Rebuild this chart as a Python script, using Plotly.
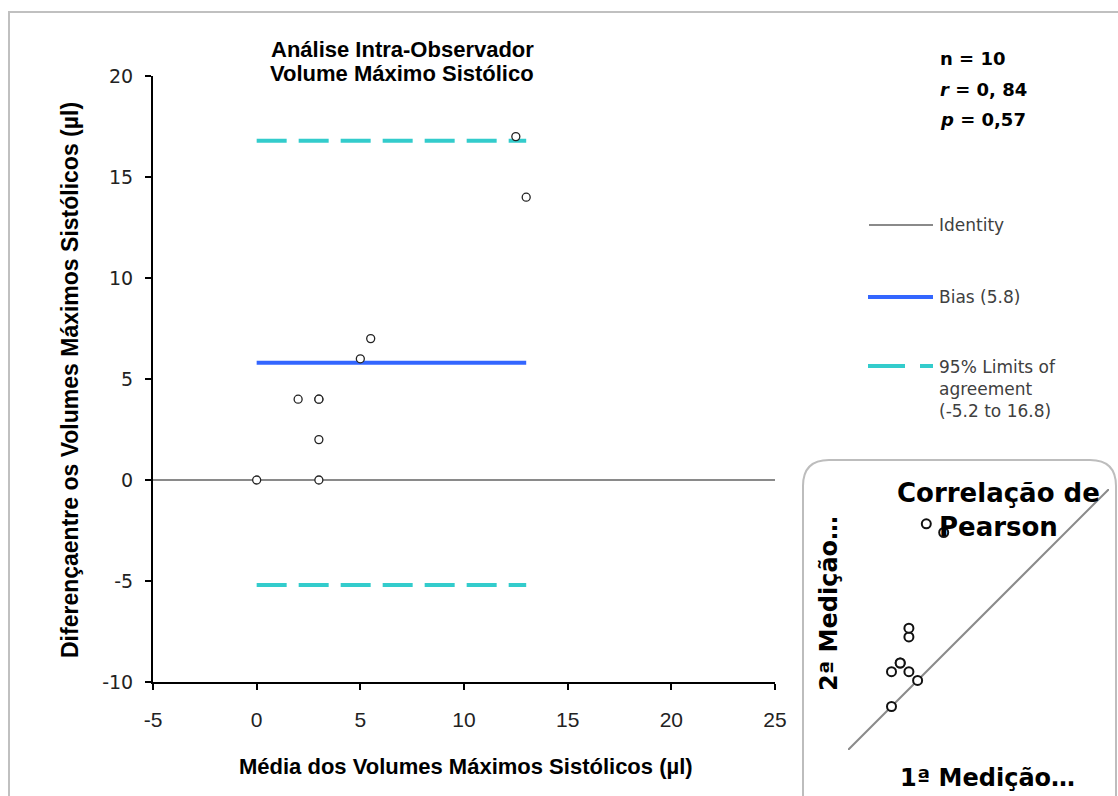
import plotly.graph_objects as go

W, H = 1118, 796

def px(x):
    return x / W

def py(y):
    return 1 - y / H

# ---------------- data ----------------
first_measure = [0, 0, 1, 1, 2, 3, 2, 2, 4, 6]
second_measure = [0, 4, 5, 5, 4, 3, 8, 9, 21, 20]
means = [0, 2, 3, 3, 3, 3, 5, 5.5, 12.5, 13]
diffs = [0, 4, 4, 4, 2, 0, 6, 7, 17, 14]
bias = 5.8
loa_low = -5.2
loa_high = 16.8
x_ticks = [-5, 0, 5, 10, 15, 20, 25]
y_ticks = [-10, -5, 0, 5, 10, 15, 20]
x_range = [-5, 25]
y_range = [-10, 20]
inset_range = [-5, 25]

stats_lines = ["n = 10", "<i>r</i> = 0, 84", "<i>p</i> = 0,57"]
legend_labels = ["Identity", "Bias (5.8)", "95% Limits of<br>agreement<br>(-5.2 to 16.8)"]

GRAY = "#8a8a8a"
BLUE = "#3366ff"
TEAL = "#33cccc"
ARIAL = "Liberation Sans, Arial, sans-serif"
WIDE = "DejaVu Sans, Verdana, sans-serif"

fig = go.Figure()

span = [min(means), max(means)]

# identity (zero difference)
fig.add_trace(go.Scatter(x=x_range, y=[0, 0], mode="lines",
                         line=dict(color=GRAY, width=2), hoverinfo="skip"))
# bias
fig.add_trace(go.Scatter(x=span, y=[bias, bias], mode="lines",
                         line=dict(color=BLUE, width=4), hoverinfo="skip"))
# limits of agreement
for v in (loa_high, loa_low):
    fig.add_trace(go.Scatter(x=span, y=[v, v], mode="lines",
                             line=dict(color=TEAL, width=4, dash="30px,12px"),
                             hoverinfo="skip"))
# points
fig.add_trace(go.Scatter(x=means, y=diffs, mode="markers",
                         marker=dict(symbol="circle", size=8, color="white",
                                     line=dict(color="#222222", width=1.3))))

# inset: identity + points
fig.add_trace(go.Scatter(x=inset_range, y=inset_range, mode="lines",
                         xaxis="x2", yaxis="y2",
                         line=dict(color=GRAY, width=2), hoverinfo="skip"))
fig.add_trace(go.Scatter(x=first_measure, y=second_measure, mode="markers",
                         xaxis="x2", yaxis="y2",
                         marker=dict(symbol="circle", size=9, color="white",
                                     line=dict(color="#111111", width=2))))

def ann(text, x, y, family, size, color="#000", xanchor="center", angle=0, align="center"):
    return dict(text=text, x=px(x), y=py(y), xref="paper", yref="paper",
                font=dict(family=family, size=size, color=color),
                showarrow=False, xanchor=xanchor, yanchor="middle",
                textangle=angle, align=align)

annotations = []
# title
annotations.append(ann("<b>Análise Intra-Observador</b>", 402, 50, ARIAL, 22))
annotations.append(ann("<b>Volume Máximo Sistólico</b>", 402, 73, ARIAL, 22))
# axis titles
annotations.append(ann("<b>Média dos Volumes Máximos Sistólicos (µl)</b>", 466, 766, ARIAL, 22))
annotations.append(ann("<b>Diferençaentre os Volumes Máximos Sistólicos (µl)</b>", 70, 380,
                       ARIAL, 23, angle=-90))
# stats
for i, t in enumerate(stats_lines):
    annotations.append(ann("<b>" + t + "</b>", 938, 58 + 31 * i, WIDE, 18, xanchor="left"))
# legend texts
legend_y = [225, 297, 389]
for lab, yy in zip(legend_labels, legend_y):
    annotations.append(ann(lab, 937, yy, WIDE, 17, color="#404040", xanchor="left",
                           align="left"))
# inset texts
annotations.append(ann("<b>Correlação de<br>Pearson</b>", 998, 510, WIDE, 26))
annotations.append(ann("<b>1ª Medição…</b>", 987, 778, WIDE, 24))
annotations.append(ann("<b>2ª Medição…</b>", 829, 604, WIDE, 24, angle=-90))

shapes = []
# outer border
shapes.append(dict(type="rect", xref="paper", yref="paper",
                   x0=px(9), x1=px(1140), y0=py(820), y1=py(12),
                   line=dict(color="#c0c0c0", width=2)))
# inset rounded box
L, T, R, B, r = 803, 460, 1116, 830, 26
path = (f"M {px(L)},{py(B)} L {px(L)},{py(T + r)} "
        f"Q {px(L)},{py(T)} {px(L + r)},{py(T)} "
        f"L {px(R - r)},{py(T)} Q {px(R)},{py(T)} {px(R)},{py(T + r)} "
        f"L {px(R)},{py(B)}")
shapes.append(dict(type="path", xref="paper", yref="paper", path=path,
                   line=dict(color="#bdbdbd", width=2)))
# legend samples
shapes.append(dict(type="line", xref="paper", yref="paper",
                   x0=px(869), x1=px(933), y0=py(225), y1=py(225),
                   line=dict(color=GRAY, width=2)))
shapes.append(dict(type="line", xref="paper", yref="paper",
                   x0=px(868), x1=px(933), y0=py(297), y1=py(297),
                   line=dict(color=BLUE, width=4)))
shapes.append(dict(type="line", xref="paper", yref="paper",
                   x0=px(868), x1=px(933), y0=py(366), y1=py(366),
                   line=dict(color=TEAL, width=4, dash="37px,15px")))

axis_common = dict(showline=True, linecolor="#000", linewidth=2, ticks="outside",
                   ticklen=6, tickwidth=2, tickcolor="#000", showgrid=False,
                   zeroline=False, automargin=False)

fig.update_layout(
    width=W, height=H,
    margin=dict(l=0, r=0, t=0, b=0),
    paper_bgcolor="white", plot_bgcolor="rgba(0,0,0,0)",
    showlegend=False,
    xaxis=dict(domain=[px(153), px(775)], range=x_range, tickvals=x_ticks,
               ticktext=[str(v) for v in x_ticks],
               tickfont=dict(family=ARIAL, size=21, color="#222"),
               ticklabelstandoff=12, anchor="y", **axis_common),
    yaxis=dict(domain=[py(682), py(76)], range=y_range, tickvals=y_ticks,
               ticktext=[str(v) for v in y_ticks],
               tickfont=dict(family=WIDE, size=19, color="#222"),
               ticklabelstandoff=8, anchor="x", **axis_common),
    xaxis2=dict(domain=[px(848), px(1109)], range=inset_range, visible=False,
                anchor="y2"),
    yaxis2=dict(domain=[py(750), py(489)], range=inset_range, visible=False,
                anchor="x2"),
    annotations=annotations,
    shapes=shapes,
)

fig.write_html("out.html")
